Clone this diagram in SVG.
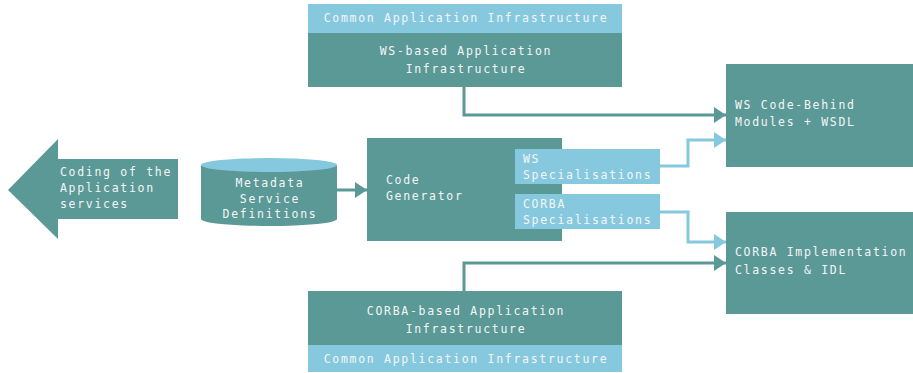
<svg xmlns="http://www.w3.org/2000/svg" width="913" height="373" viewBox="0 0 913 373">
<style>
.dk{fill:#5b9997}
.lt{fill:#86c9df}
text{font-family:"DejaVu Sans Mono","Liberation Mono",monospace;font-size:11.5px;letter-spacing:1.7px;fill:#f4f6f6}
.c{text-anchor:middle}
.cd{fill:none;stroke:#5b9997;stroke-width:3}
.cl{fill:none;stroke:#86c9df;stroke-width:3}
</style>
<defs>
<marker id="ad" markerUnits="userSpaceOnUse" markerWidth="12" markerHeight="16" refX="12" refY="8" orient="auto"><path d="M0,0 L12,8 L0,16 Z" fill="#5b9997"/></marker>
<marker id="al" markerUnits="userSpaceOnUse" markerWidth="12" markerHeight="16" refX="12" refY="8" orient="auto"><path d="M0,0 L12,8 L0,16 Z" fill="#86c9df"/></marker>
</defs>
<rect width="913" height="373" fill="#fff"/>
<g id="connectors">
<path class="cd" d="M464,87 V115 H726" marker-end="url(#ad)"/>
<path class="cl" d="M660,166 H688 V140 H726" marker-end="url(#al)"/>
<path class="cl" d="M660,212 H688 V242 H726" marker-end="url(#al)"/>
<path class="cd" d="M464,291 V263 H726" marker-end="url(#ad)"/>
<path class="cd" d="M337,190 H367" marker-end="url(#ad)"/>
</g>
<g id="ws-infra">
<rect class="lt" x="308" y="4" width="314" height="29"/>
<rect class="dk" x="308" y="33" width="314" height="54"/>
<text class="c" x="466" y="22">Common Application Infrastructure</text>
<text class="c" x="466" y="55">WS-based Application</text>
<text class="c" x="466" y="73">Infrastructure</text>
</g>
<g id="coding">
<polygon class="dk" points="8,190 58,139 58,159 178,159 178,219 58,219 58,239"/>
<text x="60" y="176">Coding of the</text>
<text x="60" y="192">Application</text>
<text x="60" y="208">services</text>
</g>
<g id="metadata">
<path class="dk" d="M201,165 V219 A68,7 0 0 0 337,219 V165 Z"/>
<ellipse class="lt" cx="269" cy="165" rx="68" ry="7"/>
<text class="c" x="270" y="187">Metadata</text>
<text class="c" x="270" y="203">Service</text>
<text class="c" x="270" y="218">Definitions</text>
</g>
<g id="code-generator">
<rect class="dk" x="367" y="138" width="195" height="103"/>
<text x="386" y="184">Code</text>
<text x="386" y="200">Generator</text>
</g>
<g id="ws-spec">
<rect class="lt" x="515" y="149" width="145" height="35"/>
<text x="523" y="163">WS</text>
<text x="523" y="179">Specialisations</text>
</g>
<g id="corba-spec">
<rect class="lt" x="515" y="194" width="145" height="35"/>
<text x="523" y="208">CORBA</text>
<text x="523" y="224">Specialisations</text>
</g>
<g id="ws-codebehind">
<rect class="dk" x="726" y="64" width="187" height="103"/>
<text x="735" y="109">WS Code-Behind</text>
<text x="735" y="126">Modules + WSDL</text>
</g>
<g id="corba-impl">
<rect class="dk" x="726" y="212" width="187" height="102"/>
<text x="735" y="256">CORBA Implementation</text>
<text x="735" y="274">Classes &amp; IDL</text>
</g>
<g id="corba-infra">
<rect class="dk" x="308" y="291" width="314" height="54"/>
<rect class="lt" x="308" y="345" width="314" height="27"/>
<text class="c" x="466" y="315">CORBA-based Application</text>
<text class="c" x="466" y="333">Infrastructure</text>
<text class="c" x="466" y="363">Common Application Infrastructure</text>
</g>
</svg>
